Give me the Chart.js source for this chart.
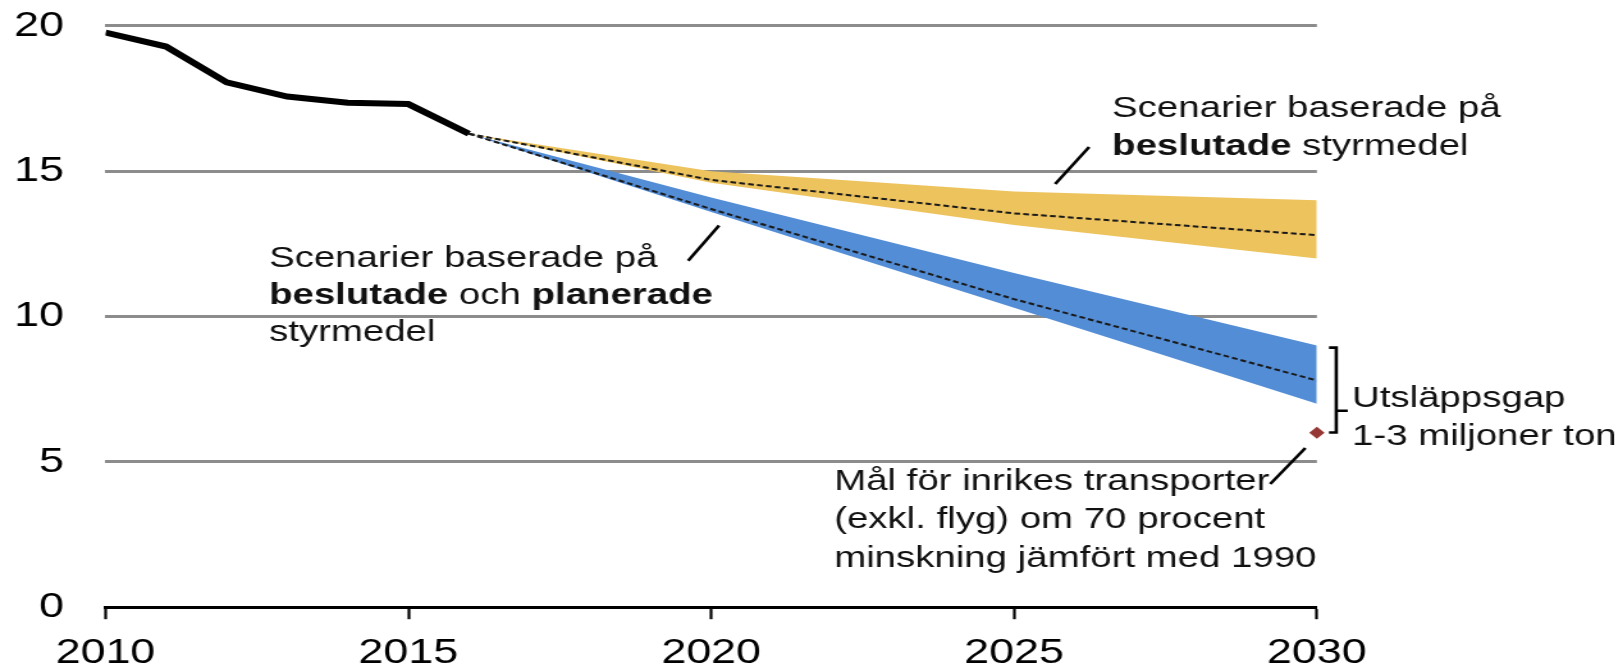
<!DOCTYPE html>
<html lang="sv">
<head>
    <meta charset="UTF-8">
    <title>Utsläpp inrikes transporter</title>
    <script src="https://cdn.jsdelivr.net/npm/chart.js"></script>
    <style>
        html, body { margin: 0; padding: 0; background: #fff; }
        #wrap { width: 1622px; height: 672px; overflow: hidden; }
        /* the source picture is stretched sideways, so the canvas is too */
        #chart { transform: scaleX(1.28); transform-origin: 0 0; }
    </style>
</head>
<body>
    <div id="wrap">
        <canvas id="chart" width="1267" height="672"></canvas>
    </div>

    <script>
        // historical emissions
        const histYears = [2010, 2011, 2012, 2013, 2014, 2015, 2016];
        const histValues = [19.77, 19.29, 18.06, 17.57, 17.36, 17.31, 16.29];

        // scenarios
        const scenYears = [2016, 2020, 2025, 2030];
        const decidedHigh = [16.29, 15.0, 14.3, 14.0];
        const decidedLow = [16.29, 14.6, 13.15, 12.0];
        const decidedMid = [16.29, 14.7, 13.55, 12.8];
        const plannedHigh = [16.29, 14.1, 11.5, 9.0];
        const plannedLow = [16.29, 13.6, 10.3, 7.0];
        const plannedMid = [16.29, 13.7, 10.6, 7.8];

        // target for 2030
        const targetYear = 2030;
        const targetValue = 6;

        const xTicks = [2010, 2015, 2020, 2025, 2030];
        const yTicks = [0, 5, 10, 15, 20];

        const FONT = '"Liberation Sans", Arial, sans-serif';

        const pts = (xs, ys) => xs.map((x, i) => ({ x: x, y: ys[i] }));

        // text notes, placed in data units: [year, value] of first baseline
        const notes = [
            { at: [2026.62, 16.86], step: 38, lines: [
                [['Scenarier baserade på']],
                [['beslutade', true], [' styrmedel']]
            ] },
            { at: [2012.70, 11.70], step: 37, lines: [
                [['Scenarier baserade på']],
                [['beslutade', true], [' och '], ['planerade', true]],
                [['styrmedel']]
            ] },
            { at: [2030.58, 6.90], step: 38.5, lines: [
                [['Utsläppsgap']],
                [['1-3 miljoner ton']]
            ] },
            { at: [2022.03, 4.04], step: 38.5, lines: [
                [['Mål för inrikes transporter']],
                [['(exkl. flyg) om 70 procent']],
                [['minskning jämfört med 1990']]
            ] }
        ];
        const leaders = [
            [[2026.24, 15.83], [2025.68, 14.56]],
            [[2020.13, 13.13], [2019.62, 11.92]],
            [[2029.81, 5.48], [2029.23, 4.24]]
        ];
        const gap = { x: 2030.32, hook: 2030.20, top: 8.93, bottom: 6.01, mid: 6.76, tip: 2030.51 };

        const notesPlugin = {
            id: 'notes',
            afterDatasetsDraw(chart) {
                const ctx = chart.ctx;
                const xs = chart.scales.x, ys = chart.scales.y;
                const px = v => xs.getPixelForValue(v);
                const py = v => ys.getPixelForValue(v);
                ctx.save();
                ctx.strokeStyle = '#000';
                ctx.lineWidth = 2.6;
                leaders.forEach(l => {
                    ctx.beginPath();
                    ctx.moveTo(px(l[0][0]), py(l[0][1]));
                    ctx.lineTo(px(l[1][0]), py(l[1][1]));
                    ctx.stroke();
                });
                // bracket for the gap
                ctx.beginPath();
                ctx.moveTo(px(gap.hook), py(gap.top));
                ctx.lineTo(px(gap.x), py(gap.top));
                ctx.lineTo(px(gap.x), py(gap.bottom));
                ctx.lineTo(px(gap.hook), py(gap.bottom));
                ctx.moveTo(px(gap.x), py(gap.mid));
                ctx.lineTo(px(gap.tip), py(gap.mid));
                ctx.stroke();

                ctx.fillStyle = '#111';
                ctx.textBaseline = 'alphabetic';
                ctx.textAlign = 'left';
                notes.forEach(n => {
                    let y = py(n.at[1]);
                    n.lines.forEach(line => {
                        let x = px(n.at[0]);
                        line.forEach(run => {
                            ctx.font = (run[1] ? 'bold ' : '') + '30px ' + FONT;
                            ctx.fillText(run[0], x, y);
                            x += ctx.measureText(run[0]).width;
                        });
                        y += n.step;
                    });
                });
                ctx.restore();
            }
        };

        const ctx = document.getElementById('chart').getContext('2d');
        new Chart(ctx, {
            type: 'line',
            data: {
                datasets: [
                    {
                        label: 'Historik',
                        data: pts(histYears, histValues),
                        borderColor: '#000',
                        borderWidth: 6,
                        pointRadius: 0,
                        fill: false,
                        order: 0
                    },
                    {
                        label: 'Mål 2030',
                        data: [{ x: targetYear, y: targetValue }],
                        showLine: false,
                        clip: false,
                        pointStyle: 'rectRot',
                        pointRadius: 6,
                        backgroundColor: '#953735',
                        borderWidth: 0,
                        order: 0
                    },
                    {
                        label: 'Beslutade (medel)',
                        data: pts(scenYears, decidedMid),
                        borderColor: '#1a1a1a',
                        borderWidth: 2,
                        borderDash: [4.5, 2.5],
                        pointRadius: 0,
                        fill: false,
                        order: 1
                    },
                    {
                        label: 'Beslutade och planerade (medel)',
                        data: pts(scenYears, plannedMid),
                        borderColor: '#1a1a1a',
                        borderWidth: 2,
                        borderDash: [4.5, 2.5],
                        pointRadius: 0,
                        fill: false,
                        order: 1
                    },
                    {
                        label: 'Beslutade hög',
                        data: pts(scenYears, decidedHigh),
                        borderWidth: 0,
                        pointRadius: 0,
                        fill: false,
                        order: 2
                    },
                    {
                        label: 'Beslutade låg',
                        data: pts(scenYears, decidedLow),
                        borderWidth: 0,
                        pointRadius: 0,
                        backgroundColor: '#EDC35E',
                        fill: '-1',
                        order: 2
                    },
                    {
                        label: 'Planerade hög',
                        data: pts(scenYears, plannedHigh),
                        borderWidth: 0,
                        pointRadius: 0,
                        fill: false,
                        order: 2
                    },
                    {
                        label: 'Planerade låg',
                        data: pts(scenYears, plannedLow),
                        borderWidth: 0,
                        pointRadius: 0,
                        backgroundColor: '#538DD5',
                        fill: '-1',
                        order: 2
                    }
                ]
            },
            options: {
                responsive: false,
                animation: false,
                layout: { padding: { top: 25.9, left: 0, right: 238.2, bottom: 0 } },
                plugins: {
                    legend: { display: false },
                    tooltip: { enabled: false }
                },
                scales: {
                    x: {
                        type: 'linear',
                        min: 2010,
                        max: 2030,
                        afterBuildTicks: s => { s.ticks = xTicks.map(v => ({ value: v })); },
                        afterFit: s => { s.height = 64.8; },
                        ticks: {
                            callback: v => String(v),
                            color: '#000',
                            padding: 13,
                            font: { family: FONT, size: 35 }
                        },
                        grid: {
                            drawOnChartArea: false,
                            drawTicks: true,
                            tickLength: 12,
                            tickColor: '#000',
                            tickWidth: 2.2
                        },
                        border: { display: true, color: '#000', width: 3 }
                    },
                    y: {
                        min: 0,
                        max: 20,
                        afterBuildTicks: s => { s.ticks = yTicks.map(v => ({ value: v })); },
                        afterFit: s => { s.width = 82.4; s.paddingTop = 0; s.paddingBottom = 0; },
                        ticks: {
                            color: '#000',
                            padding: 32.4,
                            font: { family: FONT, size: 35 }
                        },
                        grid: {
                            drawTicks: false,
                            color: c => c.tick && c.tick.value === 0 ? 'rgba(0,0,0,0)' : '#8c8c8c',
                            lineWidth: 3
                        },
                        border: { display: false }
                    }
                }
            },
            plugins: [notesPlugin]
        });
    </script>
</body>
</html>
